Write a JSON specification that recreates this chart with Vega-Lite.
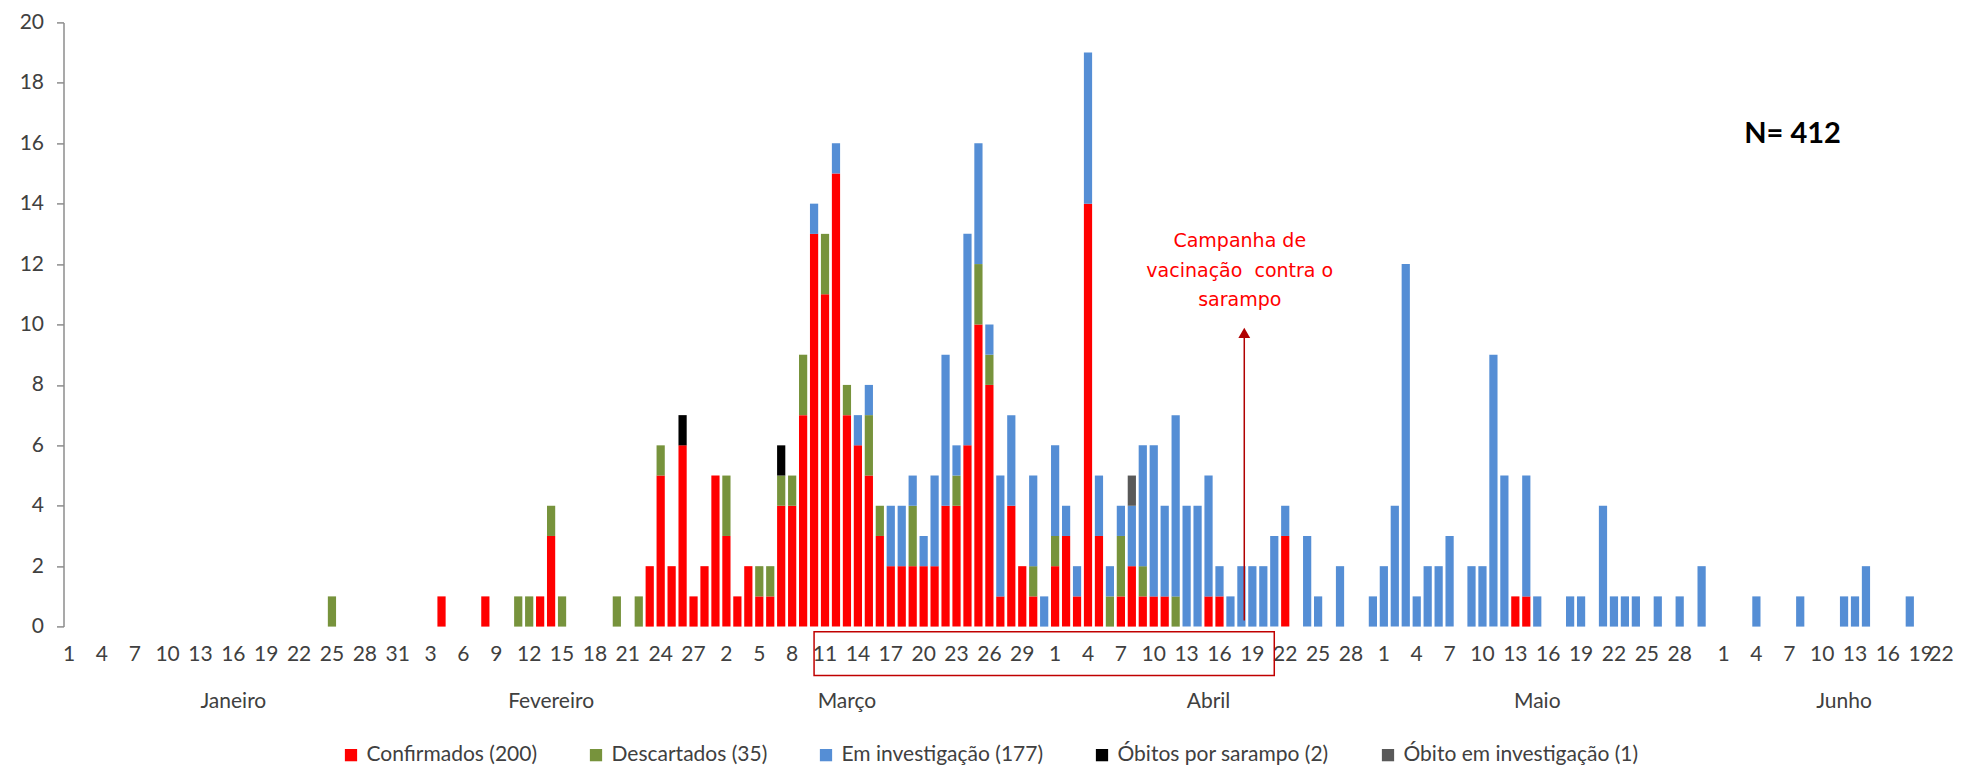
{
  "$schema": "https://vega.github.io/schema/vega-lite/v6.json",
  "width": 1895.6,
  "height": 604.2,
  "autosize": {"type": "none"},
  "padding": {"left": 63.5, "top": 22.4, "right": 1.9, "bottom": 138.4},
  "background": "white",
  "config": {"view": {"stroke": null}, "font": "Lato"},
  "datasets": {
    "casos": [
      {"dia": "2018-01-25", "categoria": "Descartados (35)", "casos": 1},
      {"dia": "2018-02-04", "categoria": "Confirmados (200)", "casos": 1},
      {"dia": "2018-02-08", "categoria": "Confirmados (200)", "casos": 1},
      {"dia": "2018-02-11", "categoria": "Descartados (35)", "casos": 1},
      {"dia": "2018-02-12", "categoria": "Descartados (35)", "casos": 1},
      {"dia": "2018-02-13", "categoria": "Confirmados (200)", "casos": 1},
      {"dia": "2018-02-14", "categoria": "Confirmados (200)", "casos": 3},
      {"dia": "2018-02-14", "categoria": "Descartados (35)", "casos": 1},
      {"dia": "2018-02-15", "categoria": "Descartados (35)", "casos": 1},
      {"dia": "2018-02-20", "categoria": "Descartados (35)", "casos": 1},
      {"dia": "2018-02-22", "categoria": "Descartados (35)", "casos": 1},
      {"dia": "2018-02-23", "categoria": "Confirmados (200)", "casos": 2},
      {"dia": "2018-02-24", "categoria": "Confirmados (200)", "casos": 5},
      {"dia": "2018-02-24", "categoria": "Descartados (35)", "casos": 1},
      {"dia": "2018-02-25", "categoria": "Confirmados (200)", "casos": 2},
      {"dia": "2018-02-26", "categoria": "Confirmados (200)", "casos": 6},
      {"dia": "2018-02-26", "categoria": "Óbitos por sarampo (2)", "casos": 1},
      {"dia": "2018-02-27", "categoria": "Confirmados (200)", "casos": 1},
      {"dia": "2018-02-28", "categoria": "Confirmados (200)", "casos": 2},
      {"dia": "2018-03-01", "categoria": "Confirmados (200)", "casos": 5},
      {"dia": "2018-03-02", "categoria": "Confirmados (200)", "casos": 3},
      {"dia": "2018-03-02", "categoria": "Descartados (35)", "casos": 2},
      {"dia": "2018-03-03", "categoria": "Confirmados (200)", "casos": 1},
      {"dia": "2018-03-04", "categoria": "Confirmados (200)", "casos": 2},
      {"dia": "2018-03-05", "categoria": "Confirmados (200)", "casos": 1},
      {"dia": "2018-03-05", "categoria": "Descartados (35)", "casos": 1},
      {"dia": "2018-03-06", "categoria": "Confirmados (200)", "casos": 1},
      {"dia": "2018-03-06", "categoria": "Descartados (35)", "casos": 1},
      {"dia": "2018-03-07", "categoria": "Confirmados (200)", "casos": 4},
      {"dia": "2018-03-07", "categoria": "Descartados (35)", "casos": 1},
      {"dia": "2018-03-07", "categoria": "Óbitos por sarampo (2)", "casos": 1},
      {"dia": "2018-03-08", "categoria": "Confirmados (200)", "casos": 4},
      {"dia": "2018-03-08", "categoria": "Descartados (35)", "casos": 1},
      {"dia": "2018-03-09", "categoria": "Confirmados (200)", "casos": 7},
      {"dia": "2018-03-09", "categoria": "Descartados (35)", "casos": 2},
      {"dia": "2018-03-10", "categoria": "Confirmados (200)", "casos": 13},
      {"dia": "2018-03-10", "categoria": "Em investigação (177)", "casos": 1},
      {"dia": "2018-03-11", "categoria": "Confirmados (200)", "casos": 11},
      {"dia": "2018-03-11", "categoria": "Descartados (35)", "casos": 2},
      {"dia": "2018-03-12", "categoria": "Confirmados (200)", "casos": 15},
      {"dia": "2018-03-12", "categoria": "Em investigação (177)", "casos": 1},
      {"dia": "2018-03-13", "categoria": "Confirmados (200)", "casos": 7},
      {"dia": "2018-03-13", "categoria": "Descartados (35)", "casos": 1},
      {"dia": "2018-03-14", "categoria": "Confirmados (200)", "casos": 6},
      {"dia": "2018-03-14", "categoria": "Em investigação (177)", "casos": 1},
      {"dia": "2018-03-15", "categoria": "Confirmados (200)", "casos": 5},
      {"dia": "2018-03-15", "categoria": "Descartados (35)", "casos": 2},
      {"dia": "2018-03-15", "categoria": "Em investigação (177)", "casos": 1},
      {"dia": "2018-03-16", "categoria": "Confirmados (200)", "casos": 3},
      {"dia": "2018-03-16", "categoria": "Descartados (35)", "casos": 1},
      {"dia": "2018-03-17", "categoria": "Confirmados (200)", "casos": 2},
      {"dia": "2018-03-17", "categoria": "Em investigação (177)", "casos": 2},
      {"dia": "2018-03-18", "categoria": "Confirmados (200)", "casos": 2},
      {"dia": "2018-03-18", "categoria": "Em investigação (177)", "casos": 2},
      {"dia": "2018-03-19", "categoria": "Confirmados (200)", "casos": 2},
      {"dia": "2018-03-19", "categoria": "Descartados (35)", "casos": 2},
      {"dia": "2018-03-19", "categoria": "Em investigação (177)", "casos": 1},
      {"dia": "2018-03-20", "categoria": "Confirmados (200)", "casos": 2},
      {"dia": "2018-03-20", "categoria": "Em investigação (177)", "casos": 1},
      {"dia": "2018-03-21", "categoria": "Confirmados (200)", "casos": 2},
      {"dia": "2018-03-21", "categoria": "Em investigação (177)", "casos": 3},
      {"dia": "2018-03-22", "categoria": "Confirmados (200)", "casos": 4},
      {"dia": "2018-03-22", "categoria": "Em investigação (177)", "casos": 5},
      {"dia": "2018-03-23", "categoria": "Confirmados (200)", "casos": 4},
      {"dia": "2018-03-23", "categoria": "Descartados (35)", "casos": 1},
      {"dia": "2018-03-23", "categoria": "Em investigação (177)", "casos": 1},
      {"dia": "2018-03-24", "categoria": "Confirmados (200)", "casos": 6},
      {"dia": "2018-03-24", "categoria": "Em investigação (177)", "casos": 7},
      {"dia": "2018-03-25", "categoria": "Confirmados (200)", "casos": 10},
      {"dia": "2018-03-25", "categoria": "Descartados (35)", "casos": 2},
      {"dia": "2018-03-25", "categoria": "Em investigação (177)", "casos": 4},
      {"dia": "2018-03-26", "categoria": "Confirmados (200)", "casos": 8},
      {"dia": "2018-03-26", "categoria": "Descartados (35)", "casos": 1},
      {"dia": "2018-03-26", "categoria": "Em investigação (177)", "casos": 1},
      {"dia": "2018-03-27", "categoria": "Confirmados (200)", "casos": 1},
      {"dia": "2018-03-27", "categoria": "Em investigação (177)", "casos": 4},
      {"dia": "2018-03-28", "categoria": "Confirmados (200)", "casos": 4},
      {"dia": "2018-03-28", "categoria": "Em investigação (177)", "casos": 3},
      {"dia": "2018-03-29", "categoria": "Confirmados (200)", "casos": 2},
      {"dia": "2018-03-30", "categoria": "Confirmados (200)", "casos": 1},
      {"dia": "2018-03-30", "categoria": "Descartados (35)", "casos": 1},
      {"dia": "2018-03-30", "categoria": "Em investigação (177)", "casos": 3},
      {"dia": "2018-03-31", "categoria": "Em investigação (177)", "casos": 1},
      {"dia": "2018-04-01", "categoria": "Confirmados (200)", "casos": 2},
      {"dia": "2018-04-01", "categoria": "Descartados (35)", "casos": 1},
      {"dia": "2018-04-01", "categoria": "Em investigação (177)", "casos": 3},
      {"dia": "2018-04-02", "categoria": "Confirmados (200)", "casos": 3},
      {"dia": "2018-04-02", "categoria": "Em investigação (177)", "casos": 1},
      {"dia": "2018-04-03", "categoria": "Confirmados (200)", "casos": 1},
      {"dia": "2018-04-03", "categoria": "Em investigação (177)", "casos": 1},
      {"dia": "2018-04-04", "categoria": "Confirmados (200)", "casos": 14},
      {"dia": "2018-04-04", "categoria": "Em investigação (177)", "casos": 5},
      {"dia": "2018-04-05", "categoria": "Confirmados (200)", "casos": 3},
      {"dia": "2018-04-05", "categoria": "Em investigação (177)", "casos": 2},
      {"dia": "2018-04-06", "categoria": "Descartados (35)", "casos": 1},
      {"dia": "2018-04-06", "categoria": "Em investigação (177)", "casos": 1},
      {"dia": "2018-04-07", "categoria": "Confirmados (200)", "casos": 1},
      {"dia": "2018-04-07", "categoria": "Descartados (35)", "casos": 2},
      {"dia": "2018-04-07", "categoria": "Em investigação (177)", "casos": 1},
      {"dia": "2018-04-08", "categoria": "Confirmados (200)", "casos": 2},
      {"dia": "2018-04-08", "categoria": "Em investigação (177)", "casos": 2},
      {"dia": "2018-04-08", "categoria": "Óbito em investigação (1)", "casos": 1},
      {"dia": "2018-04-09", "categoria": "Confirmados (200)", "casos": 1},
      {"dia": "2018-04-09", "categoria": "Descartados (35)", "casos": 1},
      {"dia": "2018-04-09", "categoria": "Em investigação (177)", "casos": 4},
      {"dia": "2018-04-10", "categoria": "Confirmados (200)", "casos": 1},
      {"dia": "2018-04-10", "categoria": "Em investigação (177)", "casos": 5},
      {"dia": "2018-04-11", "categoria": "Confirmados (200)", "casos": 1},
      {"dia": "2018-04-11", "categoria": "Em investigação (177)", "casos": 3},
      {"dia": "2018-04-12", "categoria": "Descartados (35)", "casos": 1},
      {"dia": "2018-04-12", "categoria": "Em investigação (177)", "casos": 6},
      {"dia": "2018-04-13", "categoria": "Em investigação (177)", "casos": 4},
      {"dia": "2018-04-14", "categoria": "Em investigação (177)", "casos": 4},
      {"dia": "2018-04-15", "categoria": "Confirmados (200)", "casos": 1},
      {"dia": "2018-04-15", "categoria": "Em investigação (177)", "casos": 4},
      {"dia": "2018-04-16", "categoria": "Confirmados (200)", "casos": 1},
      {"dia": "2018-04-16", "categoria": "Em investigação (177)", "casos": 1},
      {"dia": "2018-04-17", "categoria": "Em investigação (177)", "casos": 1},
      {"dia": "2018-04-18", "categoria": "Em investigação (177)", "casos": 2},
      {"dia": "2018-04-19", "categoria": "Em investigação (177)", "casos": 2},
      {"dia": "2018-04-20", "categoria": "Em investigação (177)", "casos": 2},
      {"dia": "2018-04-21", "categoria": "Em investigação (177)", "casos": 3},
      {"dia": "2018-04-22", "categoria": "Confirmados (200)", "casos": 3},
      {"dia": "2018-04-22", "categoria": "Em investigação (177)", "casos": 1},
      {"dia": "2018-04-24", "categoria": "Em investigação (177)", "casos": 3},
      {"dia": "2018-04-25", "categoria": "Em investigação (177)", "casos": 1},
      {"dia": "2018-04-27", "categoria": "Em investigação (177)", "casos": 2},
      {"dia": "2018-04-30", "categoria": "Em investigação (177)", "casos": 1},
      {"dia": "2018-05-01", "categoria": "Em investigação (177)", "casos": 2},
      {"dia": "2018-05-02", "categoria": "Em investigação (177)", "casos": 4},
      {"dia": "2018-05-03", "categoria": "Em investigação (177)", "casos": 12},
      {"dia": "2018-05-04", "categoria": "Em investigação (177)", "casos": 1},
      {"dia": "2018-05-05", "categoria": "Em investigação (177)", "casos": 2},
      {"dia": "2018-05-06", "categoria": "Em investigação (177)", "casos": 2},
      {"dia": "2018-05-07", "categoria": "Em investigação (177)", "casos": 3},
      {"dia": "2018-05-09", "categoria": "Em investigação (177)", "casos": 2},
      {"dia": "2018-05-10", "categoria": "Em investigação (177)", "casos": 2},
      {"dia": "2018-05-11", "categoria": "Em investigação (177)", "casos": 9},
      {"dia": "2018-05-12", "categoria": "Em investigação (177)", "casos": 5},
      {"dia": "2018-05-13", "categoria": "Confirmados (200)", "casos": 1},
      {"dia": "2018-05-14", "categoria": "Confirmados (200)", "casos": 1},
      {"dia": "2018-05-14", "categoria": "Em investigação (177)", "casos": 4},
      {"dia": "2018-05-15", "categoria": "Em investigação (177)", "casos": 1},
      {"dia": "2018-05-18", "categoria": "Em investigação (177)", "casos": 1},
      {"dia": "2018-05-19", "categoria": "Em investigação (177)", "casos": 1},
      {"dia": "2018-05-21", "categoria": "Em investigação (177)", "casos": 4},
      {"dia": "2018-05-22", "categoria": "Em investigação (177)", "casos": 1},
      {"dia": "2018-05-23", "categoria": "Em investigação (177)", "casos": 1},
      {"dia": "2018-05-24", "categoria": "Em investigação (177)", "casos": 1},
      {"dia": "2018-05-26", "categoria": "Em investigação (177)", "casos": 1},
      {"dia": "2018-05-28", "categoria": "Em investigação (177)", "casos": 1},
      {"dia": "2018-05-30", "categoria": "Em investigação (177)", "casos": 2},
      {"dia": "2018-06-04", "categoria": "Em investigação (177)", "casos": 1},
      {"dia": "2018-06-08", "categoria": "Em investigação (177)", "casos": 1},
      {"dia": "2018-06-12", "categoria": "Em investigação (177)", "casos": 1},
      {"dia": "2018-06-13", "categoria": "Em investigação (177)", "casos": 1},
      {"dia": "2018-06-14", "categoria": "Em investigação (177)", "casos": 2},
      {"dia": "2018-06-18", "categoria": "Em investigação (177)", "casos": 1}
    ]
  },
  "layer": [
    {
      "data": {"name": "casos"},
      "mark": {"type": "bar"},
      "encoding": {
        "x": {
          "field": "dia", "type": "ordinal",
          "scale": {
            "domain": ["2018-01-01","2018-01-02","2018-01-03","2018-01-04","2018-01-05","2018-01-06","2018-01-07","2018-01-08","2018-01-09","2018-01-10","2018-01-11","2018-01-12","2018-01-13","2018-01-14","2018-01-15","2018-01-16","2018-01-17","2018-01-18","2018-01-19","2018-01-20","2018-01-21","2018-01-22","2018-01-23","2018-01-24","2018-01-25","2018-01-26","2018-01-27","2018-01-28","2018-01-29","2018-01-30","2018-01-31",
              "2018-02-01","2018-02-02","2018-02-03","2018-02-04","2018-02-05","2018-02-06","2018-02-07","2018-02-08","2018-02-09","2018-02-10","2018-02-11","2018-02-12","2018-02-13","2018-02-14","2018-02-15","2018-02-16","2018-02-17","2018-02-18","2018-02-19","2018-02-20","2018-02-21","2018-02-22","2018-02-23","2018-02-24","2018-02-25","2018-02-26","2018-02-27","2018-02-28",
              "2018-03-01","2018-03-02","2018-03-03","2018-03-04","2018-03-05","2018-03-06","2018-03-07","2018-03-08","2018-03-09","2018-03-10","2018-03-11","2018-03-12","2018-03-13","2018-03-14","2018-03-15","2018-03-16","2018-03-17","2018-03-18","2018-03-19","2018-03-20","2018-03-21","2018-03-22","2018-03-23","2018-03-24","2018-03-25","2018-03-26","2018-03-27","2018-03-28","2018-03-29","2018-03-30","2018-03-31",
              "2018-04-01","2018-04-02","2018-04-03","2018-04-04","2018-04-05","2018-04-06","2018-04-07","2018-04-08","2018-04-09","2018-04-10","2018-04-11","2018-04-12","2018-04-13","2018-04-14","2018-04-15","2018-04-16","2018-04-17","2018-04-18","2018-04-19","2018-04-20","2018-04-21","2018-04-22","2018-04-23","2018-04-24","2018-04-25","2018-04-26","2018-04-27","2018-04-28","2018-04-29","2018-04-30",
              "2018-05-01","2018-05-02","2018-05-03","2018-05-04","2018-05-05","2018-05-06","2018-05-07","2018-05-08","2018-05-09","2018-05-10","2018-05-11","2018-05-12","2018-05-13","2018-05-14","2018-05-15","2018-05-16","2018-05-17","2018-05-18","2018-05-19","2018-05-20","2018-05-21","2018-05-22","2018-05-23","2018-05-24","2018-05-25","2018-05-26","2018-05-27","2018-05-28","2018-05-29","2018-05-30","2018-05-31",
              "2018-06-01","2018-06-02","2018-06-03","2018-06-04","2018-06-05","2018-06-06","2018-06-07","2018-06-08","2018-06-09","2018-06-10","2018-06-11","2018-06-12","2018-06-13","2018-06-14","2018-06-15","2018-06-16","2018-06-17","2018-06-18","2018-06-19","2018-06-20","2018-06-21","2018-06-22"],
            "paddingInner": 0.25, "paddingOuter": 0.125
          },
          "axis": {
            "title": null,
            "values": ["2018-01-01","2018-01-04","2018-01-07","2018-01-10","2018-01-13","2018-01-16","2018-01-19","2018-01-22","2018-01-25","2018-01-28","2018-01-31",
              "2018-02-03","2018-02-06","2018-02-09","2018-02-12","2018-02-15","2018-02-18","2018-02-21","2018-02-24","2018-02-27",
              "2018-03-02","2018-03-05","2018-03-08","2018-03-11","2018-03-14","2018-03-17","2018-03-20","2018-03-23","2018-03-26","2018-03-29",
              "2018-04-01","2018-04-04","2018-04-07","2018-04-10","2018-04-13","2018-04-16","2018-04-19","2018-04-22","2018-04-25","2018-04-28",
              "2018-05-01","2018-05-04","2018-05-07","2018-05-10","2018-05-13","2018-05-16","2018-05-19","2018-05-22","2018-05-25","2018-05-28",
              "2018-06-01","2018-06-04","2018-06-07","2018-06-10","2018-06-13","2018-06-16","2018-06-19","2018-06-22"],
            "labelExpr": "toNumber(substring(datum.value, 8, 10))",
            "labelAlign": {"condition": {"test": "datum.value == '2018-06-22'", "value": "right"}, "value": "center"},
            "domain": false, "ticks": false, "tickSize": 0,
            "labelPadding": 17, "labelFont": "Lato", "labelFontSize": 21,
            "labelColor": "#404040", "labelAngle": 0, "labelOverlap": false
          }
        },
        "y": {
          "field": "casos", "type": "quantitative", "stack": "zero",
          "scale": {"domain": [0, 20], "nice": false},
          "axis": {
            "title": null, "values": [0, 2, 4, 6, 8, 10, 12, 14, 16, 18, 20],
            "grid": false, "domain": true, "domainColor": "#8c8c8c", "domainWidth": 1.5,
            "ticks": true, "tickColor": "#8c8c8c", "tickSize": 7, "tickWidth": 1.5,
            "labelPadding": 13, "labelFont": "Lato", "labelFontSize": 21, "labelColor": "#404040"
          }
        },
        "order": {"field": "categoria", "type": "ordinal", "sort": "ascending"},
        "color": {
          "field": "categoria", "type": "nominal",
          "scale": {
            "domain": ["Confirmados (200)", "Descartados (35)", "Em investigação (177)", "Óbitos por sarampo (2)", "Óbito em investigação (1)"],
            "range": ["#FF0000", "#77933C", "#558ED5", "#000000", "#595959"]
          },
          "legend": {
            "title": null, "orient": "none", "legendX": 277, "legendY": 722,
            "direction": "horizontal", "columns": 5, "columnPadding": 48,
            "symbolType": "square", "symbolSize": 150, "symbolStrokeWidth": 0,
            "labelFont": "Lato", "labelFontSize": 21, "labelColor": "#404040",
            "labelOffset": 5, "labelLimit": 400
          }
        }
      }
    },
    {
      "data": {"values": [{"inicio": "2018-03-10", "fim": "2018-04-21", "topo": -0.17, "base": -1.62}]},
      "mark": {"type": "rect", "fill": "transparent", "stroke": "#C00000", "strokeWidth": 1.5},
      "encoding": {
        "x": {"field": "inicio", "type": "ordinal", "axis": null},
        "x2": {"field": "fim"},
        "y": {"field": "topo", "type": "quantitative", "axis": null},
        "y2": {"field": "base"}
      }
    },
    {
      "data": {"values": [{"dia": "2018-04-18", "de": 0.2, "ate": 9.6}]},
      "mark": {"type": "rule", "color": "#B00000", "strokeWidth": 1.5},
      "encoding": {
        "x": {"field": "dia", "type": "ordinal", "bandPosition": 0.85, "axis": null},
        "y": {"field": "de", "type": "quantitative", "axis": null},
        "y2": {"field": "ate"}
      }
    },
    {
      "data": {"values": [{"dia": "2018-04-18", "ponta": 9.72}]},
      "mark": {"type": "point", "shape": "triangle-up", "filled": true, "color": "#B00000", "size": 140, "opacity": 1},
      "encoding": {
        "x": {"field": "dia", "type": "ordinal", "bandPosition": 0.85, "axis": null},
        "y": {"field": "ponta", "type": "quantitative", "axis": null}
      }
    },
    {
      "data": {"values": [
        {"dia": "2018-04-18", "linha": 12.55, "texto": "Campanha de"},
        {"dia": "2018-04-18", "linha": 11.57, "texto": "vacinação\u00a0 contra o"},
        {"dia": "2018-04-18", "linha": 10.6, "texto": "sarampo"}
      ]},
      "mark": {"type": "text", "font": "DejaVu Sans", "fontSize": 19, "color": "#FF0000", "align": "center", "baseline": "alphabetic"},
      "encoding": {
        "x": {"field": "dia", "type": "ordinal", "bandPosition": 0.3, "axis": null},
        "y": {"field": "linha", "type": "quantitative", "axis": null},
        "text": {"field": "texto"}
      }
    },
    {
      "data": {"values": [{"dia": "2018-06-07", "linha": 16, "texto": "N= 412"}]},
      "mark": {"type": "text", "font": "Lato", "fontSize": 29, "fontWeight": "bold", "color": "#000000", "align": "center", "baseline": "alphabetic"},
      "encoding": {
        "x": {
          "field": "dia", "type": "ordinal", "bandPosition": 0.9,
          "axis": {
            "title": null, "orient": "bottom",
            "values": ["2018-01-16", "2018-02-14", "2018-03-13", "2018-04-15", "2018-05-15", "2018-06-12"],
            "labelExpr": "['Janeiro','Fevereiro','Março','Abril','Maio','Junho'][toNumber(substring(datum.value, 5, 7)) - 1]",
            "domain": false, "ticks": false, "tickSize": 0,
            "labelPadding": 64, "labelFont": "Lato", "labelFontSize": 21,
            "labelColor": "#404040", "labelAngle": 0, "labelOverlap": false
          }
        },
        "y": {"field": "linha", "type": "quantitative", "axis": null},
        "text": {"field": "texto"}
      }
    }
  ],
  "resolve": {"axis": {"x": "independent", "y": "independent"}}
}
